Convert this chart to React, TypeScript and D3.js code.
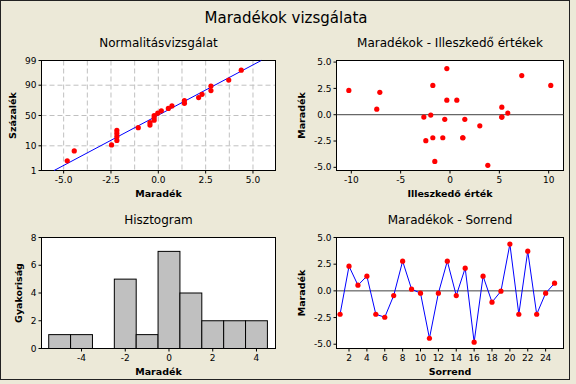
import * as d3 from "d3";

const residuals = [
  -2.19, 2.31, 0.53, 1.38, -2.19, -2.47, -0.44, 2.78, 0.16, -0.22, -4.44, -0.22, 2.78,
  -0.44, 2.13, -4.81, 1.38, -1.06, -0.03, 4.38, -2.19, 3.72, -2.19, -0.22, 0.72,
];
// fitted values, same order
const fits = [
  -1.74, -10.25, -7.42, -0.32, -0.73, -2.45, -0.53, -1.74, 5.86, -2.65, -1.54, 5.25, 10.21,
  1.5, -7.11, 3.83, 0.69, 3.02, -1.95, -0.32, 1.3, 7.27, 1.3, 5.25, 5.25,
];

const probTicks = [1, 10, 50, 90, 99];
const normXTicks = [-5, -2.5, 0, 2.5, 5];
const normXGrid = [-5, -3.75, -2.5, -1.25, 0, 1.25, 2.5, 3.75, 5];
const fitTicks = [-10, -5, 0, 5, 10];
const resTicks = [-5, -2.5, 0, 2.5, 5];
const histXTicks = [-4, -2, 0, 2, 4];
const histYTicks = [0, 2, 4, 6, 8];
const histEdges = [-5.5, -4.5, -3.5, -2.5, -1.5, -0.5, 0.5, 1.5, 2.5, 3.5, 4.5];
const orderTicks = [2, 4, 6, 8, 10, 12, 14, 16, 18, 20, 22, 24];

const BG = "#ECE9D8";
const FONT = "DejaVu Sans";
const RED = "#FF0000";
const BLUE = "#0000FF";

// inverse normal cdf (Acklam)
function qnorm(p: number) {
  const a = [-39.69683028665376, 220.9460984245205, -275.9285104469687, 138.357751867269, -30.66479806614716, 2.506628277459239];
  const b = [-54.47609879822406, 161.5858368580409, -155.6989798598866, 66.80131188771972, -13.28068155288572];
  const c = [-0.007784894002430293, -0.3223964580411365, -2.400758277161838, -2.549732539343734, 4.374664141464968, 2.938163982698783];
  const d = [0.007784695709041462, 0.3224671290700398, 2.445134137142996, 3.754408661907416];
  const pl = 0.02425;
  if (p < pl) {
    const q = Math.sqrt(-2 * Math.log(p));
    return (((((c[0] * q + c[1]) * q + c[2]) * q + c[3]) * q + c[4]) * q + c[5]) / ((((d[0] * q + d[1]) * q + d[2]) * q + d[3]) * q + 1);
  }
  if (p > 1 - pl) {
    const q = Math.sqrt(-2 * Math.log(1 - p));
    return -(((((c[0] * q + c[1]) * q + c[2]) * q + c[3]) * q + c[4]) * q + c[5]) / ((((d[0] * q + d[1]) * q + d[2]) * q + d[3]) * q + 1);
  }
  const q = p - 0.5;
  const r = q * q;
  return ((((((a[0] * r + a[1]) * r + a[2]) * r + a[3]) * r + a[4]) * r + a[5]) * q) / (((((b[0] * r + b[1]) * r + b[2]) * r + b[3]) * r + b[4]) * r + 1);
}

const fmt1 = (v: number) => v.toFixed(1);

type Box = { l: number; r: number; t: number; b: number };

function Frame({ box }: { box: Box }) {
  return <rect x={box.l} y={box.t} width={box.r - box.l} height={box.b - box.t} fill="white" stroke="black" />;
}

function Titles({ box, title, xLabel, yLabel, yLabelX }: { box: Box; title: string; xLabel: string; yLabel: string; yLabelX: number }) {
  const cx = (box.l + box.r) / 2;
  const cy = (box.t + box.b) / 2;
  return (
    <g fontFamily={FONT}>
      <text x={cx} y={box.t - 14} textAnchor="middle" fontSize={12}>{title}</text>
      <text x={cx} y={box.b + 26} textAnchor="middle" fontSize={9.5} fontWeight="bold">{xLabel}</text>
      <text transform={`translate(${yLabelX},${cy}) rotate(-90)`} dy="0.35em" textAnchor="middle" fontSize={9.5} fontWeight="bold">{yLabel}</text>
    </g>
  );
}

function XAxis({ box, scale, ticks, format }: { box: Box; scale: (v: number) => number; ticks: number[]; format: (v: number) => string }) {
  return (
    <g fontFamily={FONT} fontSize={9}>
      {ticks.map((t) => (
        <g key={t}>
          <line x1={scale(t)} x2={scale(t)} y1={box.b} y2={box.b + 3} stroke="black" />
          <text x={scale(t)} y={box.b + 12.5} textAnchor="middle">{format(t)}</text>
        </g>
      ))}
    </g>
  );
}

function YAxis({ box, scale, ticks, format }: { box: Box; scale: (v: number) => number; ticks: number[]; format: (v: number) => string }) {
  return (
    <g fontFamily={FONT} fontSize={9}>
      {ticks.map((t) => (
        <g key={t}>
          <line x1={box.l - 3} x2={box.l} y1={scale(t)} y2={scale(t)} stroke="black" />
          <text x={box.l - 5} y={scale(t)} dy="0.35em" textAnchor="end">{format(t)}</text>
        </g>
      ))}
    </g>
  );
}

function NormalPlot() {
  const box = { l: 41.5, r: 275.5, t: 60.5, b: 170.5 };
  const x = d3.scaleLinear().domain([-6.17, 6.19]).range([box.l, box.r]);
  const z = d3.scaleLinear().domain([qnorm(0.01), qnorm(0.99)]).range([box.b, box.t]);
  const y = (p: number) => z(qnorm(p / 100));
  const sorted = [...residuals].sort(d3.ascending);
  const n = sorted.length;
  const pts = sorted.map((v, i) => ({ v, p: ((i + 1 - 0.3) / (n + 0.4)) * 100 }));
  const mu = d3.mean(residuals)!;
  const sd = d3.deviation(residuals)!;
  const lo = mu + sd * qnorm(0.01);
  const hi = mu + sd * qnorm(0.99);
  return (
    <g>
      <Frame box={box} />
      {normXGrid.map((g) => (
        <line key={g} x1={x(g)} x2={x(g)} y1={box.t} y2={box.b} stroke="#C0C0C0" strokeDasharray="5 3" />
      ))}
      {[10, 50, 90].map((p) => (
        <line key={p} x1={box.l} x2={box.r} y1={y(p)} y2={y(p)} stroke="#C0C0C0" strokeDasharray="5 3" />
      ))}
      <rect x={box.l} y={box.t} width={box.r - box.l} height={box.b - box.t} fill="none" stroke="black" />
      <line x1={x(lo)} y1={y(1)} x2={x(hi)} y2={y(99)} stroke={BLUE} />
      {pts.map((d, i) => (
        <circle key={i} cx={x(d.v)} cy={y(d.p)} r={2.6} fill={RED} />
      ))}
      <XAxis box={box} scale={x} ticks={normXTicks} format={fmt1} />
      <YAxis box={box} scale={y} ticks={probTicks} format={(v) => String(v)} />
      <Titles box={box} title="Normalitásvizsgálat" xLabel="Maradék" yLabel="Százalék" yLabelX={13} />
    </g>
  );
}

function FitsPlot() {
  const box = { l: 336.5, r: 563.5, t: 60.5, b: 170.5 };
  const x = d3.scaleLinear().domain([-11.5, 11.5]).range([box.l, box.r]);
  const y = d3.scaleLinear().domain([-5.3, 5.15]).range([box.b, box.t]);
  return (
    <g>
      <Frame box={box} />
      <line x1={box.l} x2={box.r} y1={y(0)} y2={y(0)} stroke="#404040" />
      {residuals.map((r, i) => (
        <circle key={i} cx={x(fits[i])} cy={y(r)} r={2.6} fill={RED} />
      ))}
      <XAxis box={box} scale={x} ticks={fitTicks} format={(v) => String(v)} />
      <YAxis box={box} scale={y} ticks={resTicks} format={fmt1} />
      <Titles box={box} title="Maradékok - Illeszkedő értékek" xLabel="Illeszkedő érték" yLabel="Maradék" yLabelX={302} />
    </g>
  );
}

function Histogram() {
  const box = { l: 41.5, r: 275.5, t: 237.5, b: 348.5 };
  const x = d3.scaleLinear().domain([-5.83, 4.87]).range([box.l, box.r]);
  const y = d3.scaleLinear().domain([0, 8]).range([box.b, box.t]);
  const bins = d3
    .bin()
    .domain([histEdges[0], histEdges[histEdges.length - 1]])
    .thresholds(histEdges.slice(1, -1))(residuals);
  return (
    <g>
      <Frame box={box} />
      {bins
        .filter((b) => b.length > 0)
        .map((b, i) => (
          <rect key={i} x={x(b.x0!)} y={y(b.length)} width={x(b.x1!) - x(b.x0!)} height={y(0) - y(b.length)} fill="#C0C0C0" stroke="black" />
        ))}
      <XAxis box={box} scale={x} ticks={histXTicks} format={(v) => String(v)} />
      <YAxis box={box} scale={y} ticks={histYTicks} format={(v) => String(v)} />
      <Titles box={box} title="Hisztogram" xLabel="Maradék" yLabel="Gyakoriság" yLabelX={19} />
    </g>
  );
}

function OrderPlot() {
  const box = { l: 336.5, r: 563.5, t: 237.5, b: 348.5 };
  const x = d3.scaleLinear().domain([0.6, 26]).range([box.l, box.r]);
  const y = d3.scaleLinear().domain([-5.4, 5]).range([box.b, box.t]);
  const line = d3
    .line<number>()
    .x((_, i) => x(i + 1))
    .y((d) => y(d));
  return (
    <g>
      <Frame box={box} />
      <line x1={box.l} x2={box.r} y1={y(0)} y2={y(0)} stroke="#404040" />
      <path d={line(residuals)!} fill="none" stroke={BLUE} />
      {residuals.map((r, i) => (
        <circle key={i} cx={x(i + 1)} cy={y(r)} r={2.6} fill={RED} />
      ))}
      <XAxis box={box} scale={x} ticks={orderTicks} format={(v) => String(v)} />
      <YAxis box={box} scale={y} ticks={resTicks} format={fmt1} />
      <Titles box={box} title="Maradékok - Sorrend" xLabel="Sorrend" yLabel="Maradék" yLabelX={302} />
    </g>
  );
}

export default function App() {
  return (
    <svg width={576} height={384} style={{ position: "absolute", left: 0, top: 0 }}>
      <rect width={576} height={384} fill={BG} />
      <rect x={0.5} y={0.5} width={569} height={379} fill="none" stroke="#222" />
      <text x={286} y={23} textAnchor="middle" fontFamily={FONT} fontSize={15}>
        Maradékok vizsgálata
      </text>
      <NormalPlot />
      <FitsPlot />
      <Histogram />
      <OrderPlot />
    </svg>
  );
}
